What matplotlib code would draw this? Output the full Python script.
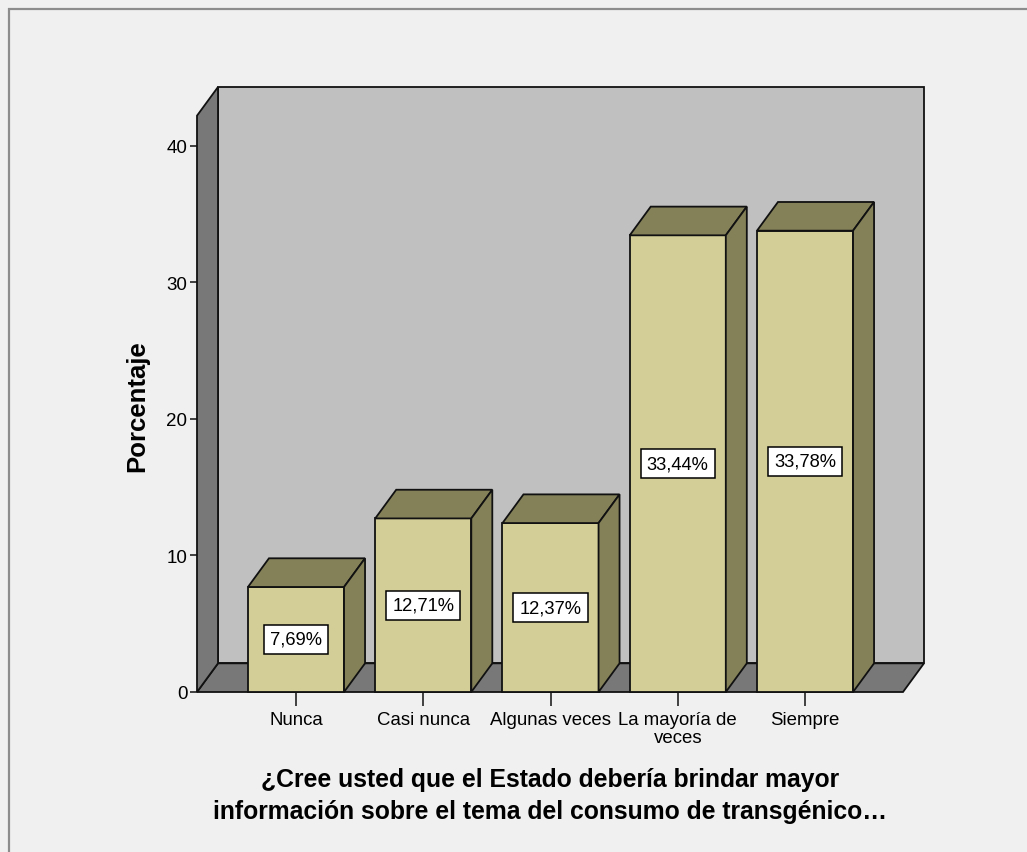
import matplotlib.pyplot as plt
from matplotlib.patches import Polygon, Rectangle

plt.rcParams['font.family'] = ['Liberation Sans', 'DejaVu Sans']

categorias = ['Nunca', 'Casi nunca', 'Algunas veces', 'La mayoría de\nveces', 'Siempre']
porcentajes = [7.69, 12.71, 12.37, 33.44, 33.78]
yticks = [0, 10, 20, 30, 40]
titulo = ('¿Cree usted que el Estado debería brindar mayor\n'
          'información sobre el tema del consumo de transgénico…')

# colores estilo SPSS
fondo = '#F0F0F0'
pared_fondo = '#C0C0C0'
pared_lado = '#787878'
barra_frente = '#D3CE97'
barra_sombra = '#848159'

# geometria de la caja 3D (en unidades de datos)
X0, X1 = -0.778, 4.935
TOPE = 42.2
DX, DY = 0.165, 2.1
W = 0.755
LW = 1.3

fig = plt.figure(figsize=(10.27, 8.53), dpi=100, facecolor=fondo)
ax = fig.add_axes([197 / 1027, 160 / 853, 727 / 1027, 605 / 853])
ax.set_xlim(X0, X1)
ax.set_ylim(0, TOPE + DY)
ax.patch.set_visible(False)
for s in ax.spines.values():
    s.set_visible(False)

def poly(pts, color, z):
    ax.add_patch(Polygon(pts, closed=True, facecolor=color, edgecolor='#111111',
                         lw=LW, joinstyle='miter', zorder=z, clip_on=False))

# pared del fondo, piso y pared izquierda
poly([(X0 + DX, DY), (X1, DY), (X1, TOPE + DY), (X0 + DX, TOPE + DY)], pared_fondo, 1)
poly([(X0, 0), (X1 - DX, 0), (X1, DY), (X0 + DX, DY)], pared_lado, 2)
poly([(X0, 0), (X0 + DX, DY), (X0 + DX, TOPE + DY), (X0, TOPE)], pared_lado, 2)

# barras
for i, v in enumerate(porcentajes):
    a, b = i - W / 2, i + W / 2
    poly([(a, 0), (b, 0), (b, v), (a, v)], barra_frente, 3)
    poly([(a, v), (b, v), (b + DX, v + DY), (a + DX, v + DY)], barra_sombra, 3)
    poly([(b, 0), (b + DX, DY), (b + DX, v + DY), (b, v)], barra_sombra, 3)
    etiqueta = f'{v:.2f}%'.replace('.', ',')
    ax.text(i, v / 2, etiqueta, ha='center', va='center', fontsize=13.2, zorder=5,
            bbox=dict(boxstyle='square,pad=0.33', fc='white', ec='black', lw=1.1))

ax.set_xticks(range(len(categorias)))
ax.set_xticklabels(categorias, fontsize=13.4, linespacing=1.05)
ax.set_yticks(yticks)
ax.set_yticklabels([str(t) for t in yticks], fontsize=13.5)
ax.tick_params(axis='x', length=10, width=1.2, color='#222222', pad=4)
ax.tick_params(axis='y', length=5, width=1.2, color='#222222', pad=2)

fig.text(137 / 1027, 1 - 406 / 853, 'Porcentaje', rotation=90, ha='center',
         va='center', fontsize=18.5, fontweight='bold')
fig.text(550 / 1027, 1 - 796 / 853, titulo, ha='center', va='center',
         fontsize=17.8, fontweight='bold', linespacing=1.4)

# marco exterior
fig.add_artist(Rectangle((9 / 1027, -0.1), 1.2, 1 - 10 / 853 + 0.1, fill=False,
                         edgecolor='#8C8C8C', lw=1.6, transform=fig.transFigure))

fig.savefig('out.png', dpi=100, facecolor=fondo)
